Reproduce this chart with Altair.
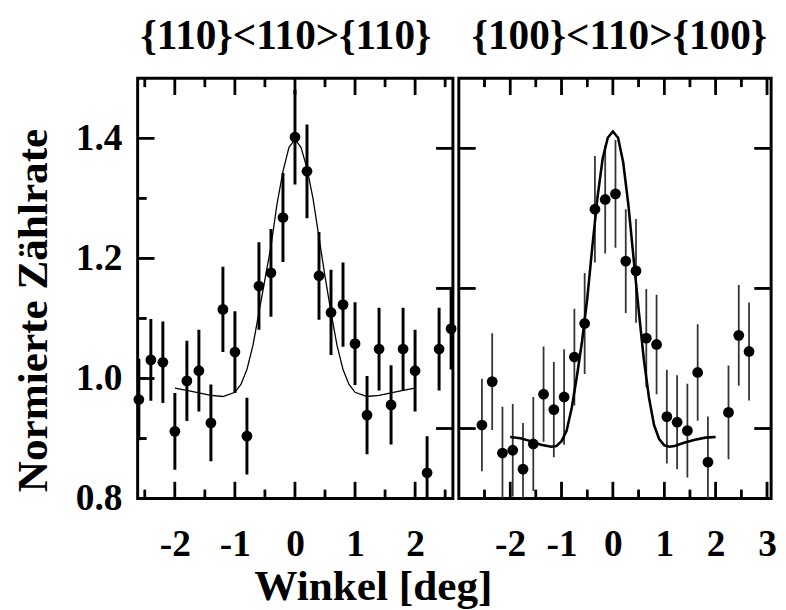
import altair as alt
import pandas as pd

FONT = "Liberation Serif"

# ---------------- left panel: {110}<110>{110} ----------------
left_title = "{110}<110>{110}"
left_x = [-2.6, -2.4, -2.2, -2.0, -1.8, -1.6, -1.4, -1.2, -1.0, -0.8, -0.6, -0.4, -0.2,
          0.0, 0.2, 0.4, 0.6, 0.8, 1.0, 1.2, 1.4, 1.6, 1.8, 2.0, 2.2, 2.4, 2.6]
left_y = [0.965, 1.031, 1.027, 0.912, 0.996, 1.013, 0.926, 1.115, 1.044, 0.904, 1.154, 1.176, 1.268,
          1.402, 1.345, 1.171, 1.110, 1.123, 1.058, 0.939, 1.049, 0.956, 1.049, 1.013, 0.843, 1.049, 1.083]
left_err = [0.068, 0.068, 0.068, 0.064, 0.067, 0.068, 0.064, 0.071, 0.068, 0.064, 0.073, 0.073, 0.074,
            0.079, 0.078, 0.073, 0.071, 0.070, 0.069, 0.065, 0.069, 0.066, 0.069, 0.068, 0.061, 0.069, 0.068]
left_fit_x = [-2.0, -1.8, -1.6, -1.4, -1.2, -1.0, -0.9, -0.8, -0.7, -0.6, -0.5, -0.4, -0.3, -0.2, -0.1,
              0.0, 0.1, 0.2, 0.3, 0.4, 0.5, 0.6, 0.7, 0.8, 0.9, 1.0, 1.2, 1.4, 1.6, 1.8, 2.0]
left_fit_y = [0.984, 0.980, 0.976, 0.972, 0.970, 0.977, 0.990, 1.015, 1.055, 1.110, 1.165, 1.220, 1.290,
              1.345, 1.385, 1.398, 1.385, 1.350, 1.300, 1.235, 1.170, 1.110, 1.055, 1.015, 0.990, 0.977,
              0.970, 0.972, 0.976, 0.980, 0.984]
left_xdom = [-2.62, 2.63]
left_ydom = [0.8, 1.5]
left_xlabels = [-2, -1, 0, 1, 2]
left_xminor = [-2.5, -1.5, -0.5, 0.5, 1.5, 2.5]
left_ylabels = [0.8, 1.0, 1.2, 1.4]
left_ymajor = [1.0, 1.2, 1.4]
left_yminor = [0.9, 1.1, 1.3]

# ---------------- right panel: {100}<110>{100} ----------------
right_title = "{100}<110>{100}"
right_x = [-2.55, -2.35, -2.15, -1.95, -1.75, -1.55, -1.35, -1.15, -0.95, -0.75, -0.55, -0.35, -0.15,
           0.05, 0.25, 0.45, 0.65, 0.85, 1.05, 1.25, 1.45, 1.65, 1.85, 2.25, 2.45, 2.65]
right_y = [1.005, 1.067, 0.965, 0.969, 0.942, 0.978, 1.049, 1.027, 1.045, 1.102, 1.150, 1.313, 1.327,
           1.335, 1.239, 1.225, 1.129, 1.120, 1.017, 1.009, 0.997, 1.080, 0.952, 1.023, 1.133, 1.110]
right_err = [0.066, 0.069, 0.066, 0.066, 0.066, 0.067, 0.068, 0.068, 0.068, 0.069, 0.072, 0.076, 0.077,
             0.077, 0.074, 0.074, 0.070, 0.071, 0.067, 0.067, 0.067, 0.069, 0.065, 0.067, 0.072, 0.070]
right_fit_x = [-2.0, -1.8, -1.6, -1.4, -1.2, -1.1, -1.0, -0.9, -0.8, -0.7, -0.6, -0.5, -0.4, -0.3, -0.2,
               -0.1, 0.0, 0.1, 0.2, 0.3, 0.4, 0.5, 0.6, 0.7, 0.8, 0.9, 1.0, 1.1, 1.2, 1.4, 1.6, 1.8, 2.0]
right_fit_y = [0.988, 0.986, 0.982, 0.977, 0.974, 0.975, 0.982, 0.997, 1.030, 1.075, 1.125, 1.185, 1.260,
               1.330, 1.385, 1.415, 1.424, 1.415, 1.380, 1.320, 1.245, 1.170, 1.100, 1.045, 1.005, 0.985,
               0.976, 0.974, 0.975, 0.980, 0.984, 0.987, 0.988]
right_xdom = [-3.0, 3.08]
right_ydom = [0.9, 1.5]
right_xlabels = [-2, -1, 0, 1, 2, 3]
right_xminor = [-2.5, -1.5, -0.5, 0.5, 1.5, 2.5]
right_ymajor = [1.0, 1.2, 1.4]

x_title = "Winkel [deg]"
y_title = "Normierte Zählrate"

W_L, W_R, H = 321, 318, 428
MAJ, MIN = 17, 9
TW = 2.5
LABEL_SIZE = 38
GAP = -16

# the right panel's y ticks, expressed on the left panel's scale (same pixel heights)
shared_ticks_in_left = [left_ydom[0] + (v - right_ydom[0]) / (right_ydom[1] - right_ydom[0])
                        * (left_ydom[1] - left_ydom[0]) for v in right_ymajor]


def x_axis(values):
    return alt.Axis(values=values, labelExpr="datum.value + ''", ticks=False, domain=False,
                    grid=False, labelFont=FONT, labelFontSize=LABEL_SIZE, labelFontWeight="bold",
                    labelPadding=58, labelBaseline="alphabetic", labelColor="black", title=None)


left_yaxis = alt.Axis(values=left_ylabels, format=".1f", ticks=False, domain=False, grid=False,
                      labelFont=FONT, labelFontSize=LABEL_SIZE, labelFontWeight="bold",
                      labelPadding=16, labelColor="black", title=y_title, titleFont=FONT,
                      titleFontSize=44, titleFontWeight="bold", titleColor="black",
                      titleX=-106, titleY=236, titleBaseline="middle", titleAlign="center",
                      titleAngle=270)


def xticks(values, xsc, ysc, ydom, length, top):
    span = (ydom[1] - ydom[0]) * length / H
    base = ydom[1] if top else ydom[0]
    end = base - span if top else base + span
    df = pd.DataFrame({"t": values, "a": [base] * len(values), "b": [end] * len(values)})
    rule = alt.Chart(df).mark_rule(color="black", strokeWidth=TW).encode(
        x=alt.X("t:Q", scale=xsc, axis=None),
        y=alt.Y("a:Q", scale=ysc, axis=None), y2="b:Q")
    tick = alt.Chart(df).mark_tick(color="black", size=length, thickness=TW, opacity=1).encode(
        x=alt.X("t:Q", scale=xsc, axis=None),
        y=alt.value(length / 2 if top else H - length / 2))
    return [rule, tick]


def yticks(values, xsc, ysc, xdom, width, length, side):
    span = (xdom[1] - xdom[0]) * length / width
    base = xdom[1] if side == "right" else xdom[0]
    end = base - span if side == "right" else base + span
    df = pd.DataFrame({"t": values, "a": [base] * len(values), "b": [end] * len(values)})
    rule = alt.Chart(df).mark_rule(color="black", strokeWidth=TW).encode(
        y=alt.Y("t:Q", scale=ysc, axis=None),
        x=alt.X("a:Q", scale=xsc, axis=None), x2="b:Q")
    tick = alt.Chart(df).mark_tick(color="black", size=length, thickness=TW, opacity=1).encode(
        y=alt.Y("t:Q", scale=ysc, axis=None),
        x=alt.value(width - length / 2 if side == "right" else length / 2))
    return [rule, tick]


def panel(xs, ys, errs, fx, fy, xdom, ydom, xlabels, xminor, width, title, dx,
          yax, bar_w, bar_col, fit_w, extra):
    xsc = alt.Scale(domain=xdom, nice=False, zero=False)
    ysc = alt.Scale(domain=ydom, nice=False, zero=False)
    pts = pd.DataFrame({"x": xs, "y": ys,
                        "lo": [a - b for a, b in zip(ys, errs)],
                        "hi": [a + b for a, b in zip(ys, errs)]})
    fit = pd.DataFrame({"x": fx, "y": fy})
    ticks = (xticks(xlabels, xsc, ysc, ydom, MAJ, False) + xticks(xminor, xsc, ysc, ydom, MIN, False)
             + xticks(xlabels, xsc, ysc, ydom, MAJ, True) + xticks(xminor, xsc, ysc, ydom, MIN, True)
             + extra(xsc, ysc))
    bars = alt.Chart(pts).mark_rule(color=bar_col, strokeWidth=bar_w, clip=True).encode(
        x=alt.X("x:Q", scale=xsc, axis=x_axis(xlabels)),
        y=alt.Y("lo:Q", scale=ysc, axis=yax), y2="hi:Q")
    line = alt.Chart(fit).mark_line(color="black", strokeWidth=fit_w).encode(
        x=alt.X("x:Q", scale=xsc, axis=None), y=alt.Y("y:Q", scale=ysc, axis=None))
    dots = alt.Chart(pts).mark_circle(color="black", opacity=1, size=120).encode(
        x=alt.X("x:Q", scale=xsc, axis=None), y=alt.Y("y:Q", scale=ysc, axis=None))
    layers = [bars, line, dots] + ticks
    return alt.layer(*layers).resolve_axis(x="independent", y="independent").properties(
        width=width, height=H,
        title=alt.TitleParams(title, font=FONT, fontSize=42, fontWeight="bold", frame="group",
                              anchor="middle", dx=dx, offset=20, color="black"))


def left_extra(xsc, ysc):
    return (yticks(left_ymajor, xsc, ysc, left_xdom, W_L, MAJ, "left")
            + yticks(left_yminor, xsc, ysc, left_xdom, W_L, MIN, "left")
            + yticks(shared_ticks_in_left, xsc, ysc, left_xdom, W_L, MAJ, "right"))


def right_extra(xsc, ysc):
    return (yticks(right_ymajor, xsc, ysc, right_xdom, W_R, MAJ, "left")
            + yticks(right_ymajor, xsc, ysc, right_xdom, W_R, MAJ, "right"))


left = panel(left_x, left_y, left_err, left_fit_x, left_fit_y, left_xdom, left_ydom,
             left_xlabels, left_xminor, W_L, left_title, -9.5, left_yaxis,
             3, "black", 1.3, left_extra)
right = panel(right_x, right_y, right_err, right_fit_x, right_fit_y, right_xdom, right_ydom,
              right_xlabels, right_xminor, W_R, right_title, 4.5, None,
              1.8, "#333333", 2.6, right_extra)

title_chart = alt.Chart(pd.DataFrame({"label": [x_title]})).mark_text(
    font=FONT, fontSize=44, fontWeight="bold", color="black", baseline="alphabetic",
    align="center").encode(
    text="label:N", x=alt.value(240), y=alt.value(26)
).properties(width=W_L + W_R + GAP, height=34, view=alt.ViewBackground(strokeOpacity=0))

panels = alt.hconcat(left, right, spacing=GAP)
chart = alt.vconcat(panels, title_chart, spacing=0).properties(
    padding={"left": 2, "top": 0, "right": 0, "bottom": 0}
).configure_view(stroke="black", strokeWidth=3)

chart.save("out.html", embed_options={"renderer": "svg", "actions": False})
